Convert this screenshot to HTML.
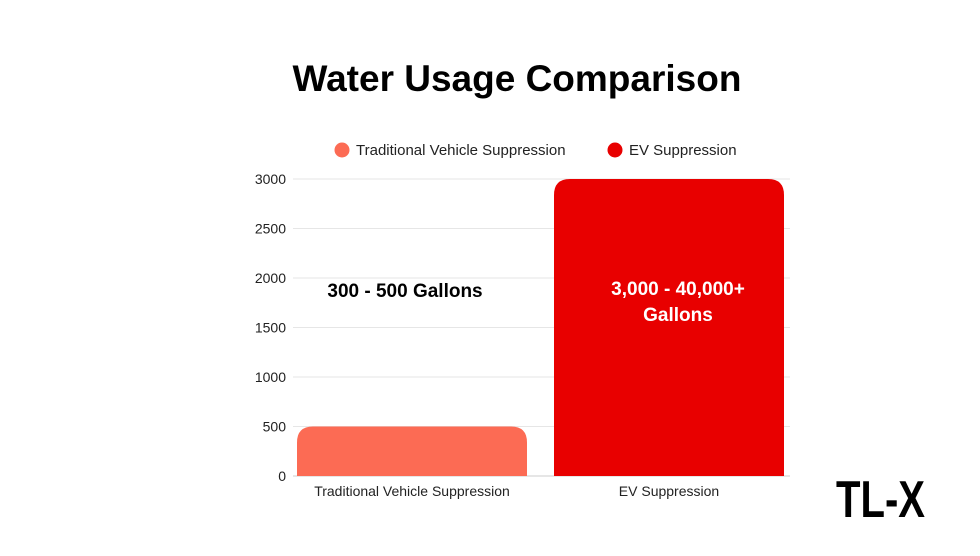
<!DOCTYPE html>
<html><head><meta charset="utf-8"><style>
body{margin:0;width:980px;height:551px;background:#fff;overflow:hidden;font-family:"Liberation Sans",sans-serif}
</style></head><body>
<svg width="980" height="551" xmlns="http://www.w3.org/2000/svg">
<text x="517" y="91" text-anchor="middle" font-size="37" font-weight="bold" fill="#000">Water Usage Comparison</text>
<g>
<circle cx="342" cy="150" r="7.5" fill="#fc6b54"/>
<text x="356" y="155" font-size="15" fill="#222">Traditional Vehicle Suppression</text>
<circle cx="615" cy="150" r="7.5" fill="#e80000"/>
<text x="629" y="155" font-size="15" fill="#222">EV Suppression</text>
</g>
<g id="grid"></g><g id="bars"></g><g id="labels"></g>
<g>
<text x="836" y="517" font-size="52" font-weight="bold" fill="#000" textLength="89" lengthAdjust="spacingAndGlyphs">TL-X</text>
</g>
</svg>
<script>
const categories=["Traditional Vehicle Suppression","EV Suppression"];
const values=[500,3000];
const colors=["#fc6b54","#e80000"];
const ticks=[0,500,1000,1500,2000,2500,3000];
const annotations=[["300 - 500 Gallons"],["3,000 - 40,000+","Gallons"]];
const NS="http://www.w3.org/2000/svg";
const y0=476,y1=179,gL=293,gR=790,xL=283.5,xR=797.5;
const y=v=>y0-(v/3000)*(y0-y1);
const band=(xR-xL)/categories.length;
const x=i=>xL+band*i+band/2;
function mk(t,a,p){const e=document.createElementNS(NS,t);for(const k in a)e.setAttribute(k,a[k]);p.appendChild(e);return e;}
const g=document.getElementById('grid'),b=document.getElementById('bars'),l=document.getElementById('labels');
ticks.forEach(t=>{
 const ln=mk('line',{x1:gL,x2:gR,y1:y(t),y2:y(t),stroke:t===0?'#ccc':'#e6e6e6','stroke-width':1},g);
 
 
 const tx=mk('text',{x:286,y:y(t)+5,'text-anchor':'end','font-size':14,fill:'#222'},g);
 tx.textContent=t;
 
 
});
categories.forEach((c,i)=>{
 const w=230,r=16,cx=x(i),left=cx-w/2,top=y(values[i]);
 const d=`M${left},${y0}V${top+r}Q${left},${top} ${left+r},${top}H${left+w-r}Q${left+w},${top} ${left+w},${top+r}V${y0}Z`;
 const p=mk('path',{d:d,fill:colors[i]},b);
 
 
 const t=mk('text',{x:cx,y:496,'text-anchor':'middle','font-size':14,fill:'#222'},l);
 t.textContent=c;
 
 
 annotations[i].forEach((s,j)=>{
  const a=mk('text',{x:i===0?cx-7:cx+9,y:(i===0?297:295)+j*26,'text-anchor':'middle','font-size':19,'font-weight':'bold',fill:i===0?'#000':'#fff'},l);
  a.textContent=s;
  
  
 });
});
</script>
</body></html>
